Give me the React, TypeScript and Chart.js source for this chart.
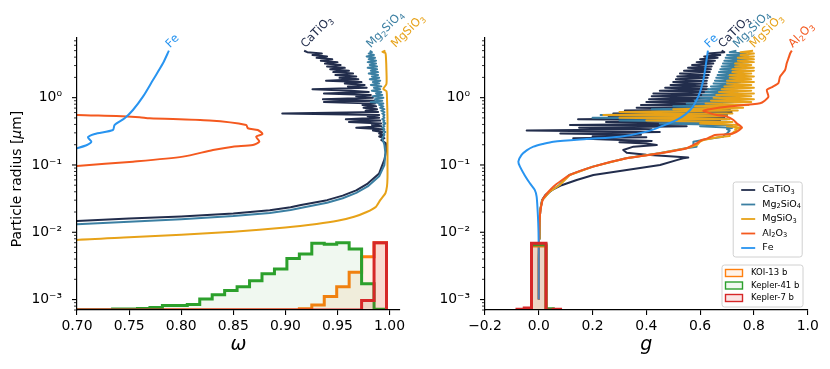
import React, { useEffect, useRef } from 'react';
import { Chart, registerables } from 'chart.js';
Chart.register(...registerables);

// ---------------- data ----------------
const SPECIES = ['CaTiO₃', 'Mg₂SiO₄', 'MgSiO₃', 'Al₂O₃', 'Fe'];
const SPECIES_COLORS = ['#222d4c', '#3b7fa2', '#e7a218', '#f4591f', '#2894f0'];
const PLANETS = ['KOI-13 b', 'Kepler-41 b', 'Kepler-7 b'];
const PLANET_COLORS = ['#ff7f0e', '#2ca02c', '#d62728'];
const PLANET_FILLS = ['rgba(255,127,14,0.09)', 'rgba(44,160,44,0.07)', 'rgba(214,39,40,0.12)'];

const W_TICKS = [0.7, 0.75, 0.8, 0.85, 0.9, 0.95, 1.0];
const G_TICKS = [-0.2, 0, 0.2, 0.4, 0.6, 0.8, 1.0];

// radius grid of the noisy (large particle) part, micron
const NOISE_R = [0.280, 0.294, 0.309, 0.324, 0.340, 0.357, 0.375, 0.394, 0.414, 0.434,
  0.456, 0.479, 0.503, 0.528, 0.554, 0.582, 0.611, 0.642, 0.674, 0.708,
  0.743, 0.780, 0.819, 0.860, 0.903, 0.948, 0.996, 1.046, 1.098, 1.153,
  1.210, 1.271, 1.334, 1.401, 1.471, 1.545, 1.622, 1.703, 1.788, 1.878,
  1.972, 2.070, 2.174, 2.282, 2.397, 2.517, 2.642, 2.775, 2.913, 3.059,
  3.212, 3.373, 3.541, 3.719, 3.905, 4.100, 4.305, 4.520, 4.746, 4.983];

// ---- left panel: omega ----
const CA_R_W = [0.0140, 0.0147, 0.0160, 0.0172, 0.0190, 0.0212, 0.0235, 0.0255, 0.0300, 0.0350, 0.0420, 0.0530, 0.0750, 0.1200, 0.1700, 0.2100, 0.2350, 0.2500, 0.2650];
const CA_W = [0.690, 0.700, 0.750, 0.800, 0.850, 0.885, 0.905, 0.915, 0.940, 0.955, 0.968, 0.979, 0.990, 0.995, 0.997, 0.9965, 0.992, 0.995, 0.990];
const CA_W_NOISE = [0.994, 0.990, 0.993, 0.984, 0.993, 0.968, 0.992, 0.983, 0.992, 0.961,
  0.991, 0.958, 0.990, 0.979, 0.990, 0.897, 0.989, 0.977, 0.988, 0.975,
  0.987, 0.974, 0.986, 0.937, 0.985, 0.936, 0.984, 0.968, 0.982, 0.937,
  0.980, 0.963, 0.926, 0.978, 0.960, 0.976, 0.957, 0.973, 0.939, 0.970,
  0.952, 0.968, 0.948, 0.965, 0.946, 0.961, 0.943, 0.957, 0.940, 0.953,
  0.938, 0.950, 0.934, 0.945, 0.930, 0.940, 0.926, 0.935, 0.921, 0.918];

const MG2_R_W = [0.0126, 0.0132, 0.0143, 0.0156, 0.0174, 0.0194, 0.0215, 0.0235, 0.0275, 0.0320, 0.0385, 0.0480, 0.0680, 0.1000, 0.1500, 0.2000, 0.2500];
const MG2_W = [0.690, 0.700, 0.750, 0.800, 0.850, 0.885, 0.905, 0.918, 0.940, 0.955, 0.968, 0.979, 0.990, 0.995, 0.996, 0.995, 0.993];
const MG2_W_NOISE = [0.995, 0.994, 0.996, 0.994, 0.995, 0.993, 0.995, 0.994, 0.996, 0.994,
  0.995, 0.993, 0.995, 0.994, 0.995, 0.993, 0.995, 0.992, 0.995, 0.991,
  0.994, 0.990, 0.994, 0.982, 0.993, 0.986, 0.994, 0.984, 0.993, 0.987,
  0.992, 0.983, 0.991, 0.985, 0.992, 0.982, 0.990, 0.984, 0.991, 0.981,
  0.990, 0.983, 0.989, 0.980, 0.989, 0.982, 0.988, 0.979, 0.988, 0.981,
  0.987, 0.979, 0.987, 0.980, 0.986, 0.978, 0.985, 0.980, 0.983, 0.981];

const MG_R_W = [0.0073, 0.0077, 0.0084, 0.0092, 0.0102, 0.0118, 0.0133, 0.0148, 0.0170, 0.0200, 0.0240, 0.0300, 0.0380, 0.0480, 0.0650, 0.1000, 0.2000, 0.5000, 1.0000, 1.2500, 1.3500, 1.6000, 2.5000, 4.0000, 4.6000, 4.8000, 5.0000];
const MG_W = [0.690, 0.700, 0.750, 0.800, 0.850, 0.900, 0.930, 0.950, 0.966, 0.978, 0.987, 0.991, 0.996, 0.9975, 0.998, 0.998, 0.998, 0.998, 0.9975, 0.997, 0.994, 0.997, 0.997, 0.9965, 0.996, 0.993, 0.996];

const AL_R_W = [0.085, 0.0966, 0.112, 0.133, 0.167, 0.187, 0.198, 0.222, 0.263, 0.289, 0.331, 0.351, 0.393, 0.456, 0.494, 0.512, 0.535, 0.553, 0.600];
const AL_W = [0.660, 0.700, 0.7537, 0.8017, 0.8305, 0.8496, 0.8688, 0.875, 0.872, 0.878, 0.8735, 0.864, 0.8624, 0.8272, 0.7697, 0.760, 0.7378, 0.700, 0.660];

const FE_R_W = [0.160, 0.177, 0.198, 0.222, 0.258, 0.289, 0.331, 0.393, 0.494, 0.656, 1.035, 1.830, 3.240, 4.990];
const FE_W = [0.690, 0.700, 0.7096, 0.7138, 0.7105, 0.717, 0.7345, 0.7361, 0.7457, 0.7537, 0.7633, 0.7729, 0.7825, 0.7882];

// ---- right panel: g ----
const CA_R_G = [0.001, 0.004, 0.008, 0.015, 0.022, 0.030, 0.036, 0.0426, 0.050, 0.0598, 0.071, 0.0843, 0.100, 0.118, 0.126, 0.129, 0.134, 0.142, 0.152, 0.167, 0.187, 0.198, 0.208, 0.218, 0.228, 0.240, 0.249, 0.258, 0.268];
const CA_G = [0, 0, 0.001, 0.003, 0.006, 0.012, 0.025, 0.050, 0.085, 0.141, 0.203, 0.327, 0.451, 0.513, 0.537, 0.556, 0.500, 0.400, 0.327, 0.314, 0.352, 0.439, 0.400, 0.300, 0.420, 0.250, 0.128, 0.400, 0.200];
const CA_G_NOISE = [0.38, 0.08, 0.45, -0.045, 0.42, 0.15, 0.55, 0.116, 0.62, 0.25,
  0.674, 0.146, 0.69, 0.26, 0.70, 0.277, 0.717, 0.32, 0.71, 0.364,
  0.70, 0.38, 0.68, 0.40, 0.65, 0.41, 0.645, 0.42, 0.64, 0.426,
  0.637, 0.45, 0.63, 0.47, 0.625, 0.49, 0.624, 0.50, 0.625, 0.51,
  0.628, 0.515, 0.632, 0.525, 0.636, 0.54, 0.64, 0.555, 0.643, 0.57,
  0.649, 0.587, 0.655, 0.60, 0.665, 0.615, 0.675, 0.63, 0.69, 0.68];

const MG2_R_G = [0.001, 0.004, 0.008, 0.015, 0.022, 0.030, 0.040, 0.050, 0.071, 0.0944, 0.126, 0.149, 0.177, 0.187, 0.200, 0.222, 0.240, 0.262];
const MG2_G = [0, 0, 0.001, 0.003, 0.006, 0.013, 0.040, 0.075, 0.113, 0.200, 0.323, 0.447, 0.547, 0.587, 0.575, 0.575, 0.620, 0.686];
const MG2_G_NOISE = [0.69, 0.70, 0.705, 0.71, 0.70, 0.72, 0.60, 0.72, 0.45, 0.71,
  0.30, 0.70, 0.20, 0.69, 0.23, 0.70, 0.35, 0.71, 0.42, 0.72,
  0.50, 0.72, 0.55, 0.73, 0.58, 0.72, 0.60, 0.73, 0.61, 0.74,
  0.62, 0.74, 0.63, 0.74, 0.64, 0.75, 0.65, 0.75, 0.655, 0.76,
  0.66, 0.76, 0.665, 0.76, 0.67, 0.77, 0.675, 0.77, 0.68, 0.77,
  0.685, 0.78, 0.69, 0.78, 0.695, 0.78, 0.70, 0.77, 0.71, 0.735];

const MG_R_G = [0.001, 0.004, 0.008, 0.015, 0.022, 0.030, 0.040, 0.050, 0.071, 0.0944, 0.126, 0.149, 0.177, 0.200, 0.222, 0.235, 0.255, 0.270];
const MG_G = [0, 0, 0.001, 0.003, 0.006, 0.013, 0.040, 0.077, 0.115, 0.202, 0.325, 0.449, 0.549, 0.590, 0.600, 0.612, 0.660, 0.708];
const MG_G_NOISE = [0.71, 0.72, 0.725, 0.735, 0.73, 0.755, 0.70, 0.74, 0.60, 0.72,
  0.40, 0.71, 0.30, 0.70, 0.24, 0.72, 0.30, 0.74, 0.50, 0.76,
  0.58, 0.78, 0.62, 0.79, 0.64, 0.80, 0.65, 0.79, 0.66, 0.80,
  0.67, 0.79, 0.68, 0.80, 0.69, 0.79, 0.70, 0.80, 0.70, 0.79,
  0.71, 0.80, 0.71, 0.79, 0.72, 0.80, 0.72, 0.80, 0.73, 0.79,
  0.73, 0.80, 0.74, 0.80, 0.74, 0.80, 0.75, 0.80, 0.75, 0.797];

const AL_R_G = [0.001, 0.004, 0.008, 0.015, 0.022, 0.032, 0.0476, 0.071, 0.0944, 0.126, 0.149, 0.177, 0.210, 0.235, 0.246, 0.279, 0.285, 0.296, 0.330, 0.363, 0.416, 0.466, 0.522, 0.553, 0.600, 0.640, 0.680, 0.735, 0.826, 0.900, 1.035, 1.300, 1.450, 1.640, 2.050, 2.580, 3.240, 4.000, 4.570, 5.000];
const AL_G = [0, 0, 0.001, 0.003, 0.007, 0.017, 0.054, 0.116, 0.203, 0.327, 0.451, 0.550, 0.587, 0.606, 0.625, 0.655, 0.700, 0.724, 0.745, 0.755, 0.736, 0.724, 0.699, 0.662, 0.630, 0.612, 0.640, 0.699, 0.823, 0.840, 0.854, 0.848, 0.870, 0.891, 0.897, 0.916, 0.922, 0.930, 0.935, 0.941];

const FE_R_G = [0.001, 0.005, 0.010, 0.0136, 0.020, 0.0338, 0.0426, 0.0535, 0.070, 0.0944, 0.112, 0.141, 0.165, 0.187, 0.205, 0.222, 0.243, 0.263, 0.313, 0.371, 0.466, 0.656, 1.035, 1.830, 3.240, 4.990];
const FE_G = [0, 0, -0.001, -0.002, -0.004, -0.008, -0.015, -0.033, -0.052, -0.070, -0.076, -0.064, -0.045, -0.020, 0.015, 0.054, 0.178, 0.302, 0.401, 0.453, 0.513, 0.563, 0.593, 0.612, 0.622, 0.629];

// ---- histograms (relative height) ----
const W_EDGES = [0.6983, 0.71025, 0.7222, 0.73415, 0.7461, 0.75805, 0.77, 0.78195, 0.7939, 0.80585, 0.8178, 0.82975, 0.8417, 0.85365, 0.8656, 0.87755, 0.8895, 0.90145, 0.9134, 0.92535, 0.9373, 0.94925, 0.9612, 0.97315, 0.9851, 0.99705];
const KOI13_W = [0, 0, 0, 0, 0, 0, 0, 0, 0, 0, 0, 0, 0, 0, 0, 0, 0, 0, 0.02, 0.075, 0.2, 0.345, 0.56, 0.79, 1.0];
const KEP41_W = [0, 0, 0, 0.015, 0.015, 0.022, 0.037, 0.067, 0.067, 0.082, 0.165, 0.225, 0.29, 0.345, 0.435, 0.54, 0.61, 0.765, 0.83, 0.99, 0.975, 1.0, 0.905, 0.39, 0.01];
const KEP7_W = [0, 0, 0, 0, 0, 0, 0, 0, 0, 0, 0, 0, 0, 0, 0, 0, 0, 0, 0, 0, 0, 0, 0, 0.14, 1.0];

const G_EDGES = [-0.081, -0.054, -0.027, 0, 0.027, 0.054, 0.081];
const KOI13_G = [0, 0, 0.95, 0.95, 0, 0];
const KEP41_G = [0, 0.01, 0.97, 0.97, 0.02, 0];
const KEP7_G = [0.01, 0.03, 0.99, 0.99, 0, 0.01];

const Y_TITLE_PARTS = [{ t: 'Particle radius [', it: false }, { t: 'μ', it: true }, { t: 'm]', it: false }];

// ---------------- helpers ----------------
const FONT = 'DejaVu Sans';
const SUBS = '₀₁₂₃₄₅₆₇₈₉';
const xy = (xs: number[], ys: number[]) => xs.map((x, i) => ({ x, y: ys[i] }));

// draws text, rendering unicode subscript digits as smaller lowered digits (like mathtext)
function drawRich(ctx: CanvasRenderingContext2D, text: string, x: number, y: number, size: number) {
  let cx = x;
  for (const ch of text) {
    const si = SUBS.indexOf(ch);
    if (si >= 0) {
      ctx.font = `${size * 0.7}px "${FONT}"`;
      const s = String(si);
      ctx.fillText(s, cx, y + size * 0.22);
      cx += ctx.measureText(s).width;
    } else {
      ctx.font = `${size}px "${FONT}"`;
      ctx.fillText(ch, cx, y);
      cx += ctx.measureText(ch).width;
    }
  }
}

function lineDs(i: number, xs: number[], ys: number[], tension = 0) {
  return {
    label: SPECIES[i], group: 'species', data: xy(xs, ys), showLine: true,
    borderColor: SPECIES_COLORS[i], backgroundColor: SPECIES_COLORS[i], borderWidth: 2,
    pointRadius: 0, pointHoverRadius: 0, tension, fill: false, yAxisID: 'y', borderJoinStyle: 'round',
  };
}
function histDs(i: number, edges: number[], h: number[]) {
  const data = [{ x: edges[0], y: 0 }, ...h.map((v, k) => ({ x: edges[k], y: v })), { x: edges[edges.length - 1], y: 0 }];
  return {
    label: PLANETS[i], group: 'planet', data, showLine: true, stepped: 'before',
    borderColor: PLANET_COLORS[i], backgroundColor: PLANET_FILLS[i], borderWidth: 3,
    pointRadius: 0, pointHoverRadius: 0, fill: 'origin', yAxisID: 'yh', borderJoinStyle: 'miter',
  };
}

const SUP: Record<string, string> = { '-': '⁻', '0': '⁰', '1': '¹', '2': '²', '3': '³', '4': '⁴', '5': '⁵', '6': '⁶', '7': '⁷', '8': '⁸', '9': '⁹' };
function pow10Label(v: number) {
  const l = Math.log10(v);
  const r = Math.round(l);
  if (Math.abs(l - r) > 1e-6) return '';
  return '10' + String(r).split('').map((c) => SUP[c]).join('');
}

const yTicksPlugin = {
  id: 'yTicksPlugin',
  afterDraw(chart: any) {
    const s = chart.scales.y;
    const { ctx, chartArea } = chart;
    ctx.save();
    ctx.strokeStyle = '#000';
    for (const t of s.ticks) {
      const v = t.value;
      if (!(v > 0)) continue;
      const e = Math.floor(Math.log10(v) + 1e-9);
      const sig = v / Math.pow(10, e);
      if (Math.abs(sig - Math.round(sig)) > 1e-6) continue;
      const y = s.getPixelForValue(v);
      if (y < chartArea.top - 0.5 || y > chartArea.bottom + 0.5) continue;
      const major = Math.round(sig) === 1 || Math.round(sig) === 10;
      ctx.lineWidth = major ? 1.1 : 0.8;
      ctx.beginPath();
      ctx.moveTo(chartArea.left - (major ? 5 : 3), y);
      ctx.lineTo(chartArea.left, y);
      ctx.stroke();
    }
    ctx.restore();
  },
};

const yTitlePlugin = {
  id: 'yTitle',
  afterDraw(chart: any, _a: any, opts: any) {
    if (!opts || !opts.show) return;
    const { ctx, chartArea } = chart;
    const size = 13.9;
    ctx.save();
    const fontOf = (it: boolean) => `${it ? 'italic ' : ''}${size}px "${FONT}"`;
    let total = 0;
    for (const p of Y_TITLE_PARTS) { ctx.font = fontOf(p.it); total += ctx.measureText(p.t).width; }
    const cy = (chartArea.top + chartArea.bottom) / 2 + 5;
    ctx.translate(17.5, cy);
    ctx.rotate(-Math.PI / 2);
    ctx.fillStyle = '#000';
    ctx.textBaseline = 'middle';
    ctx.textAlign = 'left';
    let x = -total / 2;
    for (const p of Y_TITLE_PARTS) { ctx.font = fontOf(p.it); ctx.fillText(p.t, x, 0); x += ctx.measureText(p.t).width; }
    ctx.restore();
  },
};

const endLabelsPlugin = {
  id: 'endLabels',
  afterDraw(chart: any, _a: any, opts: any) {
    const { ctx } = chart;
    const items = (opts && opts.items) || [];
    for (let k = 0; k < items.length; k++) {
      const it = items[k];
      const meta = chart.getDatasetMeta(it.ds);
      const p = meta.data[meta.data.length - 1];
      const d = chart.data.datasets[it.ds];
      ctx.save();
      ctx.fillStyle = d.borderColor;
      ctx.translate(p.x + it.dx, p.y + it.dy);
      ctx.rotate(-Math.PI / 4);
      ctx.textAlign = 'left';
      ctx.textBaseline = 'alphabetic';
      drawRich(ctx, d.label, 0, 0, 11.5);
      ctx.restore();
    }
  },
};

function roundRect(ctx: CanvasRenderingContext2D, x: number, y: number, w: number, h: number, r: number) {
  ctx.beginPath();
  ctx.moveTo(x + r, y);
  ctx.lineTo(x + w - r, y);
  ctx.arcTo(x + w, y, x + w, y + r, r);
  ctx.lineTo(x + w, y + h - r);
  ctx.arcTo(x + w, y + h, x + w - r, y + h, r);
  ctx.lineTo(x + r, y + h);
  ctx.arcTo(x, y + h, x, y + h - r, r);
  ctx.lineTo(x, y + r);
  ctx.arcTo(x, y, x + r, y, r);
  ctx.closePath();
}

const boxLegendsPlugin = {
  id: 'boxLegends',
  afterDraw(chart: any) {
    const { ctx, chartArea: ca } = chart;
    const ds = chart.data.datasets;
    const species = ds.filter((d: any) => d.group === 'species');
    const planets = ds.filter((d: any) => d.group === 'planet');
    ctx.save();
    // species legend
    let w = 69, h = 75;
    let x = ca.right - 5.5 - w, y = ca.bottom - 53 - h;
    roundRect(ctx, x, y, w, h, 2.5);
    ctx.fillStyle = 'rgba(255,255,255,0.85)';
    ctx.fill();
    ctx.strokeStyle = '#d0d0d0';
    ctx.lineWidth = 1;
    ctx.stroke();
    ctx.textBaseline = 'middle';
    ctx.textAlign = 'left';
    species.forEach((d: any, i: number) => {
      const yy = y + 8 + i * 14.5;
      ctx.strokeStyle = d.borderColor;
      ctx.lineWidth = 1.8;
      ctx.beginPath();
      ctx.moveTo(x + 8, yy);
      ctx.lineTo(x + 22, yy);
      ctx.stroke();
      ctx.fillStyle = '#000';
      drawRich(ctx, d.label, x + 29, yy, 9.5);
    });
    // planet legend
    w = 81; h = 42;
    x = ca.right - 4.7 - w; y = ca.bottom - 3 - h;
    roundRect(ctx, x, y, w, h, 2.5);
    ctx.fillStyle = 'rgba(255,255,255,0.85)';
    ctx.fill();
    ctx.strokeStyle = '#d0d0d0';
    ctx.lineWidth = 1;
    ctx.stroke();
    planets.forEach((d: any, i: number) => {
      const yy = y + 8 + i * 12.5;
      ctx.fillStyle = d.backgroundColor;
      ctx.fillRect(x + 3.5, yy - 3.5, 17, 7);
      ctx.strokeStyle = d.borderColor;
      ctx.lineWidth = 1.4;
      ctx.strokeRect(x + 3.5, yy - 3.5, 17, 7);
      ctx.fillStyle = '#000';
      ctx.font = `8.5px "${FONT}"`;
      ctx.fillText(d.label, x + 29, yy);
    });
    ctx.restore();
  },
};

function withOrder(list: any[]) {
  return list.map((d, i) => ({ ...d, order: list.length - i }));
}

function makeConfig(panel: 'left' | 'right'): any {
  const left = panel === 'left';
  const datasets = left
    ? withOrder([
      lineDs(0, [...CA_W, ...CA_W_NOISE], [...CA_R_W, ...NOISE_R]),
      lineDs(1, [...MG2_W, ...MG2_W_NOISE], [...MG2_R_W, ...NOISE_R]),
      lineDs(2, MG_W, MG_R_W, 0.2),
      lineDs(3, AL_W, AL_R_W, 0.25),
      lineDs(4, FE_W, FE_R_W, 0.25),
      histDs(0, W_EDGES, KOI13_W),
      histDs(1, W_EDGES, KEP41_W),
      histDs(2, W_EDGES, KEP7_W),
    ])
    : withOrder([
      lineDs(0, [...CA_G, ...CA_G_NOISE], [...CA_R_G, ...NOISE_R]),
      lineDs(1, [...MG2_G, ...MG2_G_NOISE], [...MG2_R_G, ...NOISE_R]),
      lineDs(2, [...MG_G, ...MG_G_NOISE], [...MG_R_G, ...NOISE_R]),
      lineDs(3, AL_G, AL_R_G, 0.2),
      lineDs(4, FE_G, FE_R_G, 0.25),
      histDs(0, G_EDGES, KOI13_G),
      histDs(1, G_EDGES, KEP41_G),
      histDs(2, G_EDGES, KEP7_G),
    ]);

  const tickVals = left ? W_TICKS : G_TICKS;
  const fmtX = (v: number) => {
    if (left) return v.toFixed(2);
    const s = Math.abs(v).toFixed(1);
    return v < -1e-9 ? '\u2212' + s : s;
  };

  return {
    type: 'scatter',
    data: { datasets },
    plugins: left ? [yTicksPlugin, yTitlePlugin, endLabelsPlugin] : [yTicksPlugin, endLabelsPlugin, boxLegendsPlugin],
    options: {
      animation: false,
      responsive: false,
      maintainAspectRatio: false,
      events: [],
      layout: { padding: left ? { left: 0, top: 38, right: 30, bottom: 0 } : { left: 0, top: 38, right: 22.3, bottom: 0 } },
      plugins: {
        legend: { display: false },
        tooltip: { enabled: false },
        yTitle: { show: left },
        endLabels: {
          items: left
            ? [
              { ds: 0, dx: 1, dy: -2.5 },
              { ds: 1, dx: 1, dy: -2.5 },
              { ds: 2, dx: 10, dy: -2.5 },
              { ds: 4, dx: 1, dy: -2.5 },
            ]
            : [
              { ds: 0, dx: 1, dy: -2.5 },
              { ds: 1, dx: 1, dy: -2.5 },
              { ds: 2, dx: 1, dy: -2.5 },
              { ds: 3, dx: 1, dy: -2.5 },
              { ds: 4, dx: 1, dy: -2.5 },
            ],
        },
      },
      scales: {
        x: {
          type: 'linear',
          min: left ? 0.7 : -0.2,
          max: left ? 1.01 : 1.0,
          afterBuildTicks: (s: any) => { s.ticks = tickVals.map((v) => ({ value: v })); },
          afterFit: (s: any) => { s.height = 59; },
          border: { display: true, color: '#000', width: 1.2, z: 1 },
          grid: { display: true, drawOnChartArea: false, drawTicks: true, tickLength: 5, color: '#000', lineWidth: 1.1 },
          ticks: { font: { family: FONT, size: 13.9 }, color: '#000', padding: 3, maxRotation: 0, autoSkip: false, callback: (v: any) => fmtX(Number(v)) },
          title: { display: true, text: left ? 'ω' : 'g', color: '#000', font: { family: FONT, size: 19, style: 'italic' }, padding: { top: 0, bottom: 13 } },
        },
        y: {
          type: 'logarithmic',
          min: 7.0e-4,
          max: 7.7,
          afterFit: (s: any) => { s.width = left ? 77 : 70; },
          border: { display: true, color: '#000', width: 1.2, z: 1 },
          grid: { display: false },
          ticks: { font: { family: FONT, size: 13.9 }, color: '#000', padding: 7, autoSkip: false, callback: (v: any) => pow10Label(Number(v)) },
          title: { display: false },
        },
        yh: { type: 'linear', display: false, min: 0, max: 4.04 },
      },
    },
  };
}

export default function App() {
  const leftRef = useRef<HTMLCanvasElement>(null);
  const rightRef = useRef<HTMLCanvasElement>(null);
  useEffect(() => {
    const c1 = new Chart(leftRef.current as HTMLCanvasElement, makeConfig('left'));
    const c2 = new Chart(rightRef.current as HTMLCanvasElement, makeConfig('right'));
    return () => { c1.destroy(); c2.destroy(); };
  }, []);
  return (
    <div style={{ position: 'fixed', left: 0, top: 0, width: 830, height: 369, background: '#fff', overflow: 'hidden' }}>
      <canvas ref={leftRef} width={430} height={369} style={{ position: 'absolute', left: 0, top: 0, width: 430, height: 369 }} />
      <canvas ref={rightRef} width={415} height={369} style={{ position: 'absolute', left: 415, top: 0, width: 415, height: 369 }} />
    </div>
  );
}
